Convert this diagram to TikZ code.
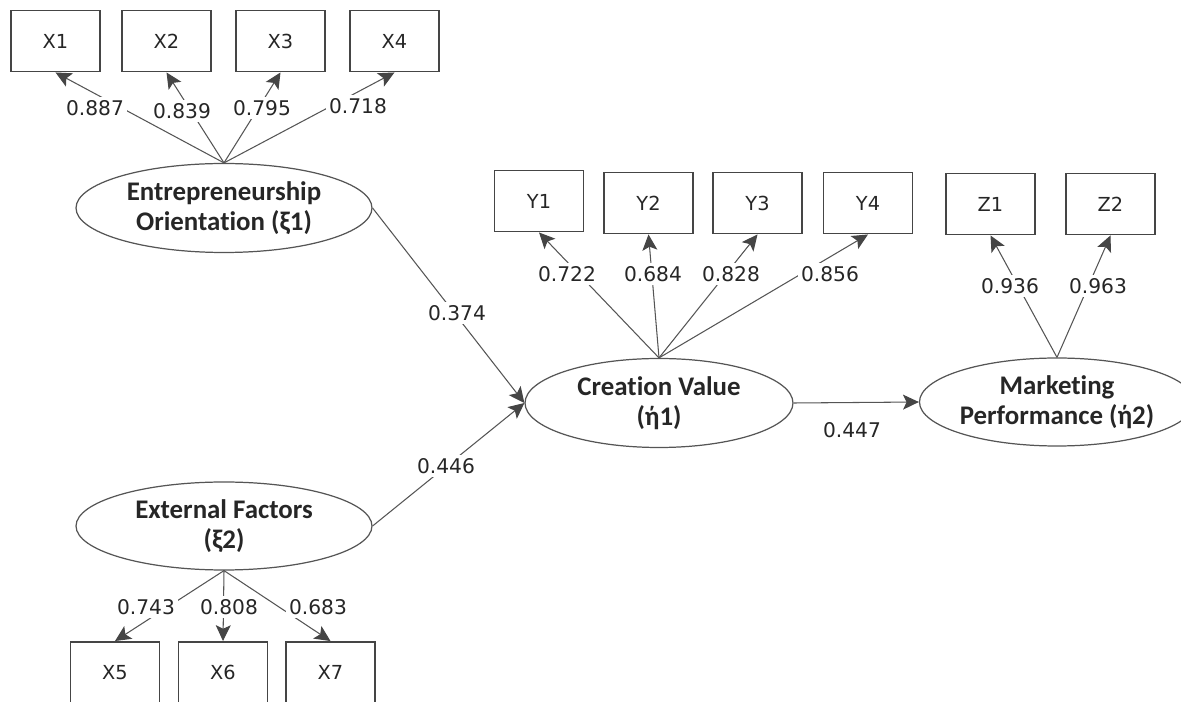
\documentclass[tikz,border=0pt]{standalone}
\usepackage{fontspec}
\setmainfont{DejaVu Sans}
\newfontfamily\latfont[Ligatures=NoCommon]{Carlito}
\usetikzlibrary{shapes.geometric,arrows.meta}
\definecolor{linegray}{HTML}{555555}
\definecolor{boxgray}{HTML}{454545}
\definecolor{txtgray}{HTML}{262626}
\begin{document}
\begin{tikzpicture}[x=0.02cm,y=-0.02cm,
  obs/.style={draw=boxgray,line width=1.1pt,minimum width=1.78cm,minimum height=1.22cm,inner sep=0pt,text=txtgray,font=\fontsize{11}{13}\selectfont},
  lat/.style={draw=linegray,line width=0.7pt,ellipse,inner sep=0pt,align=center,text=txtgray,font=\latfont\bfseries\fontsize{15.3}{17}\selectfont},
  coef/.style={fill=white,inner sep=2pt,text=txtgray,font=\fontsize{11.5}{13}\selectfont},
  load/.style={draw=linegray,line width=0.6pt,-{Stealth[length=9pt,width=8.5pt,inset=2pt,color=boxgray]}}]

\clip (0,0) rectangle (1181,702);

% indicators
\node[obs] (X1) at (55.5,41) {X1};
\node[obs] (X2) at (166.5,41) {X2};
\node[obs] (X3) at (280.5,41) {X3};
\node[obs] (X4) at (394.5,41) {X4};
\node[obs] (Y1) at (539,201) {Y1};
\node[obs] (Y2) at (648.5,203) {Y2};
\node[obs] (Y3) at (757.5,203) {Y3};
\node[obs] (Y4) at (868,203) {Y4};
\node[obs] (Z1) at (990.5,204) {Z1};
\node[obs] (Z2) at (1110.5,204) {Z2};
\node[obs] (X5) at (115,672.5) {X5};
\node[obs] (X6) at (223,672.5) {X6};
\node[obs] (X7) at (330.5,672.5) {X7};

% latent variables
\node[lat,minimum width=5.92cm,minimum height=1.78cm] (EO) at (224,208) {Entrepreneurship\\Orientation (ξ1)};
\node[lat,minimum width=5.92cm,minimum height=1.76cm] (EF) at (224,526) {External Factors\\(ξ2)};
\node[lat,minimum width=5.36cm,minimum height=1.78cm] (CV) at (659,403) {Creation Value\\(ή1)};
\node[lat,minimum width=5.28cm,minimum height=1.76cm] (MP) at (1057,402) {Marketing\\Performance (ή2)};

\draw[load] (EO.north) -- (X1.south);
\draw[load] (EO.north) -- (X2.south);
\draw[load] (EO.north) -- (X3.south);
\draw[load] (EO.north) -- (X4.south);
\draw[load] (EF.south) -- (X5.north);
\draw[load] (EF.south) -- (X6.north);
\draw[load] (EF.south) -- (X7.north);
\draw[load] (CV.north) -- (Y1.south);
\draw[load] (CV.north) -- (Y2.south);
\draw[load] (CV.north) -- (Y3.south);
\draw[load] (CV.north) -- (Y4.south);
\draw[load] (MP.north) -- (Z1.south);
\draw[load] (MP.north) -- (Z2.south);
\draw[load] (EO.east) -- (CV.west);
\draw[load] (EF.east) -- (CV.west);
\draw[load] (CV.east) -- (MP.west);

% coefficients
\node[coef] (c1) at (95,108) {0.887};
\node[coef] (c2) at (182,111) {0.839};
\node[coef] (c3) at (262,108) {0.795};
\node[coef] (c4) at (358,106) {0.718};
\node[coef] (c5) at (146,607) {0.743};
\node[coef] (c6) at (229,607) {0.808};
\node[coef] (c7) at (318,607) {0.683};
\node[coef] (c8) at (567,274) {0.722};
\node[coef] (c9) at (653,274) {0.684};
\node[coef] (c10) at (731,274) {0.828};
\node[coef] (c11) at (830,274) {0.856};
\node[coef] (c12) at (1010,286) {0.936};
\node[coef] (c13) at (1098,286) {0.963};
\node[coef] (c14) at (457,313) {0.374};
\node[coef] (c15) at (446,466) {0.446};
\node[coef] (c16) at (852,430) {0.447};
\end{tikzpicture}
\end{document}
